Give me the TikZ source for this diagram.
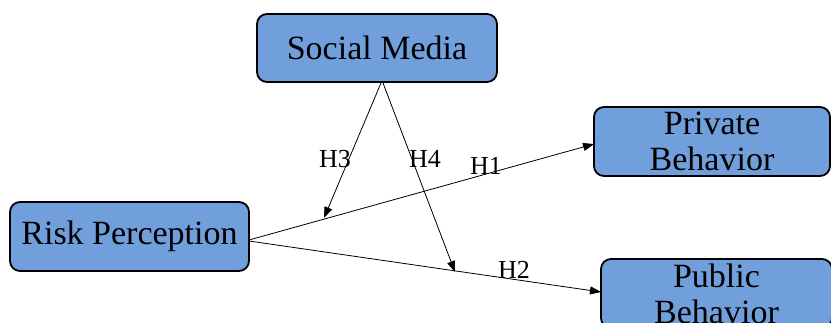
\documentclass[tikz,border=0pt]{standalone}
\usepackage{fontspec}
\setmainfont{Liberation Serif}
\usetikzlibrary{arrows.meta}
\definecolor{boxblue}{RGB}{112,159,220}
\tikzset{
  box/.style={draw=black, line width=1.8pt, fill=boxblue, rounded corners=10pt,
    inner sep=0pt, align=center, font=\fontsize{34}{36}\selectfont},
  conn/.style={line width=0.8pt, -{Triangle[length=11pt,width=8pt]}},
  hlab/.style={font=\fontsize{26}{30}\selectfont, inner sep=0pt}
}
\begin{document}
\begin{tikzpicture}[x=1pt,y=-1pt]
\useasboundingbox (0,0) rectangle (831,322);
\node[box, minimum width=240pt, minimum height=68pt] (sm) at (377,48) {Social Media};
\node[box, minimum width=239pt, minimum height=69pt] (rp) at (129.5,236.5) {Risk Perception};
\node[box, minimum width=236pt, minimum height=69pt] (pr) at (712,141.5) {Private\\Behavior};
\node[box, minimum width=231pt, minimum height=69pt] (pu) at (716.5,293.5) {Public\\Behavior};
\coordinate (rpo1) at (249,240);
\coordinate (rpo2) at (249,241);
\coordinate (smo1) at (381,83);
\coordinate (smo2) at (383,83);
\coordinate (h3end) at (324,218);
\coordinate (h4end) at (455,272);
\coordinate (prin) at (594,144);
\coordinate (puin) at (601,292);
\draw[conn] (rpo1) -- (prin);
\draw[conn] (rpo2) -- (puin);
\draw[conn] (smo1) -- (h3end);
\draw[conn] (smo2) -- (h4end);
\node[hlab] (l3) at (335,159) {H3};
\node[hlab] (l4) at (425,159) {H4};
\node[hlab] (l1) at (486,166) {H1};
\node[hlab] (l2) at (514,270) {H2};
\end{tikzpicture}
\end{document}
